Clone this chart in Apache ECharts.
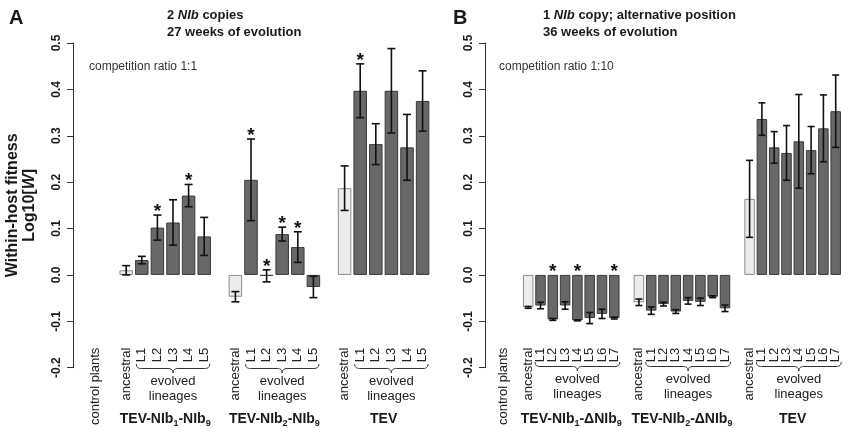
<!DOCTYPE html>
<html lang="en">
<head>
<meta charset="UTF-8">
<title>Within-host fitness</title>
<style>
  * { margin: 0; padding: 0; }
  html, body { width: 100%; height: 100%; background: #fff; }
  #main { width: 852px; height: 428px; }
</style>
</head>
<body>
<div id="main"></div>
<script src="https://cdn.jsdelivr.net/npm/echarts@6/dist/echarts.min.js"></script>
<script>
// panel A: 2 NIb copies, 27 weeks, competition 1:1
var catA = ['control plants', '',
    'ancestral', 'L1', 'L2', 'L3', 'L4', 'L5', '',
    'ancestral', 'L1', 'L2', 'L3', 'L4', 'L5', '',
    'ancestral', 'L1', 'L2', 'L3', 'L4', 'L5'];
var valA = [null, null,
    0.010, 0.032, 0.102, 0.113, 0.171, 0.083, null,
    -0.047, 0.205, -0.002, 0.088, 0.060, -0.026, null,
    0.187, 0.397, 0.282, 0.397, 0.275, 0.375];
var errA = [null, null,
    0.010, 0.008, 0.027, 0.049, 0.024, 0.041, null,
    0.011, 0.088, 0.013, 0.015, 0.033, 0.023, null,
    0.048, 0.058, 0.044, 0.091, 0.071, 0.065];
var starA = [0, 0,
    0, 0, 1, 0, 1, 0, 0,
    0, 1, 1, 1, 1, 0, 0,
    0, 1, 0, 0, 0, 0];
var groupsA = ['TEV-NIb{s|1}-NIb{s|9}', 'TEV-NIb{s|2}-NIb{s|9}', 'TEV'];

// panel B: 1 NIb copy, 36 weeks, competition 1:10
var catB = ['control plants', '',
    'ancestral', 'L1', 'L2', 'L3', 'L4', 'L5', 'L6', 'L7', '',
    'ancestral', 'L1', 'L2', 'L3', 'L4', 'L5', 'L6', 'L7', '',
    'ancestral', 'L1', 'L2', 'L3', 'L4', 'L5', 'L6', 'L7'];
var valB = [null, null,
    -0.070, -0.066, -0.096, -0.066, -0.098, -0.093, -0.084, -0.093, null,
    -0.059, -0.077, -0.063, -0.079, -0.056, -0.058, -0.047, -0.072, null,
    0.164, 0.336, 0.275, 0.263, 0.288, 0.269, 0.316, 0.353];
var errB = [null, null,
    0.002, 0.007, 0.002, 0.008, 0.001, 0.012, 0.010, 0.002, null,
    0.007, 0.008, 0.004, 0.004, 0.007, 0.008, 0.002, 0.007, null,
    0.083, 0.035, 0.034, 0.059, 0.101, 0.051, 0.072, 0.078];
var starB = [0, 0,
    0, 0, 1, 0, 1, 0, 0, 1, 0,
    0, 0, 0, 0, 0, 0, 0, 0, 0,
    0, 0, 0, 0, 0, 0, 0, 0];
var groupsB = ['TEV-NIb{s|1}-\u0394NIb{s|9}', 'TEV-NIb{s|2}-\u0394NIb{s|9}', 'TEV'];

var yTicks = [-0.2, -0.1, 0.0, 0.1, 0.2, 0.3, 0.4, 0.5];

var FONT = '"Liberation Sans", Arial, Helvetica, sans-serif';
var INK = '#1a1a1a';
var ANC_FILL = '#ececec', ANC_LINE = '#8c8c8c';
var EVO_FILL = '#686868', EVO_LINE = '#3a3a3a';

var chart = echarts.init(document.getElementById('main'));

function splitBars(cats, vals, anc) {
    return vals.map(function (v, i) {
        return (cats[i] === 'ancestral') === anc ? v : null;
    });
}

function errData(vals, errs, stars) {
    var out = [];
    vals.forEach(function (v, i) {
        if (v !== null) out.push([i, v, errs[i], stars[i]]);
    });
    return out;
}

function errorBars(capHalf) {
    return function (params, api) {
        var i = api.value(0), v = api.value(1), e = api.value(2), s = api.value(3);
        var top = api.coord([i, v + e]);
        var bot = api.coord([i, v - e]);
        var x = top[0];
        var line = {stroke: '#111', lineWidth: 1.6};
        var kids = [
            {type: 'line', shape: {x1: x, y1: top[1], x2: x, y2: bot[1]}, style: line},
            {type: 'line', shape: {x1: x - capHalf, y1: top[1], x2: x + capHalf, y2: top[1]}, style: line},
            {type: 'line', shape: {x1: x - capHalf, y1: bot[1], x2: x + capHalf, y2: bot[1]}, style: line}
        ];
        if (s) {
            var sy = api.coord([i, Math.max(v + e, 0)])[1];
            kids.push({type: 'text', x: x, y: sy + 6, style: {
                text: '*', fontSize: 19, fontWeight: 'bold', fontFamily: FONT, fill: '#111',
                align: 'center', verticalAlign: 'bottom'}});
        }
        return {type: 'group', children: kids};
    };
}

function xAxisCfg(grid, cats) {
    return {
        type: 'category', gridIndex: grid, data: cats,
        axisLine: {show: false, onZero: false},
        axisTick: {show: false},
        splitLine: {show: false},
        axisLabel: {interval: 0, rotate: 90, margin: -20, fontSize: 13, fontFamily: FONT, color: '#222'}
    };
}

function yAxisCfg(grid, offset, named) {
    var ax = {
        type: 'value', gridIndex: grid, min: yTicks[0], max: yTicks[yTicks.length - 1], interval: 0.1,
        offset: offset,
        axisLine: {show: true, lineStyle: {color: '#333', width: 1}},
        axisTick: {show: true, length: 6, lineStyle: {color: '#333', width: 1}},
        splitLine: {show: false},
        axisLabel: {rotate: 90, margin: 10, fontSize: 12, fontWeight: 'bold', fontFamily: FONT, color: INK,
            formatter: function (v) { return v.toFixed(1); }}
    };
    if (named) {
        ax.name = 'Within-host fitness\nLog10[{i|W}]';
        ax.nameLocation = 'middle';
        ax.nameRotate = 90;
        ax.nameGap = 35;
        ax.nameTextStyle = {fontSize: 16, fontWeight: 'bold', fontFamily: FONT, color: INK, lineHeight: 17,
            rich: {i: {fontSize: 16, fontWeight: 'bold', fontStyle: 'italic', fontFamily: FONT, color: INK}}};
    }
    return ax;
}

function barSeries(axis, data, fill, stroke, w) {
    return {
        type: 'bar', xAxisIndex: axis, yAxisIndex: axis, data: data, barWidth: w, barGap: '-100%',
        silent: true, itemStyle: {color: fill, borderColor: stroke, borderWidth: 1}
    };
}

function errSeries(axis, data, cap) {
    return {
        type: 'custom', xAxisIndex: axis, yAxisIndex: axis, data: data, z: 5, silent: true,
        encode: {x: 0, y: 1}, renderItem: errorBars(cap)
    };
}

function txt(x, y, text, size, weight, extra) {
    var st = {text: text, fontSize: size, fontWeight: weight, fontFamily: FONT, fill: INK,
        align: 'left', verticalAlign: 'middle'};
    for (var k in extra) st[k] = extra[k];
    return {type: 'text', x: x, y: y, silent: true, style: st};
}

var italic = {i: {fontSize: 13, fontWeight: 'bold', fontStyle: 'italic', fontFamily: FONT, fill: INK}};

var titles = [
    txt(9, 18, 'A', 20, 'bold'),
    txt(167, 15, '2 {i|NIb} copies', 13, 'bold', {rich: italic}),
    txt(167, 32, '27 weeks of evolution', 13, 'bold'),
    txt(89, 67, 'competition ratio 1:1', 12, 'normal', {fill: '#333'}),
    txt(453, 18, 'B', 20, 'bold'),
    txt(543, 15, '1 {i|NIb} copy; alternative position', 13, 'bold', {rich: italic}),
    txt(543, 32, '36 weeks of evolution', 13, 'bold'),
    txt(499, 67, 'competition ratio 1:10', 12, 'normal', {fill: '#333'})
];

var option = {
    animation: false,
    grid: [
        {left: 87.2, top: 43, width: 343.2, height: 329},
        {left: 497.45, top: 43, width: 344.4, height: 329}
    ],
    xAxis: [xAxisCfg(0, catA), xAxisCfg(1, catB)],
    yAxis: [yAxisCfg(0, 14.2, true), yAxisCfg(1, 12.45, false)],
    series: [
        barSeries(0, splitBars(catA, valA, true), ANC_FILL, ANC_LINE, 13.5),
        barSeries(0, splitBars(catA, valA, false), EVO_FILL, EVO_LINE, 13.5),
        errSeries(0, errData(valA, errA, starA), 4),
        barSeries(1, splitBars(catB, valB, true), ANC_FILL, ANC_LINE, 10.5),
        barSeries(1, splitBars(catB, valB, false), EVO_FILL, EVO_LINE, 10.5),
        errSeries(1, errData(valB, errB, starB), 3.5)
    ],
    graphic: titles
};
chart.setOption(option);

// group annotations: brace, "evolved lineages", group name
function groupsOf(cats) {
    var out = [];
    cats.forEach(function (c, i) {
        if (c === 'ancestral') out.push({start: i, end: i});
        else if (c !== '' && c !== 'control plants' && out.length) out[out.length - 1].end = i;
    });
    return out;
}

function quad(pts, p0, c, p1) {
    for (var t = 1; t <= 8; t++) {
        var u = t / 8;
        pts.push([(1 - u) * (1 - u) * p0[0] + 2 * u * (1 - u) * c[0] + u * u * p1[0],
                  (1 - u) * (1 - u) * p0[1] + 2 * u * (1 - u) * c[1] + u * u * p1[1]]);
    }
}

function brace(x1, x2, yT, yM, yB) {
    var xc = (x1 + x2) / 2, r = 5;
    var pts = [[x1, yT]];
    quad(pts, [x1, yT], [x1, yM], [x1 + r, yM]);
    pts.push([xc - r, yM]);
    quad(pts, [xc - r, yM], [xc, yM], [xc, yB]);
    quad(pts, [xc, yB], [xc, yM], [xc + r, yM]);
    pts.push([x2 - r, yM]);
    quad(pts, [x2 - r, yM], [x2, yM], [x2, yT]);
    return {type: 'polyline', silent: true, shape: {points: pts},
        style: {stroke: '#333', lineWidth: 1, fill: null}};
}

var sub = {s: {fontSize: 9, fontWeight: 'bold', fontFamily: FONT, fill: INK, verticalAlign: 'bottom', lineHeight: 9}};

function annotate(axis, cats, names, yTop) {
    var els = [];
    var px = function (i) { return chart.convertToPixel({xAxisIndex: axis}, i); };
    groupsOf(cats).forEach(function (g, k) {
        var l1 = px(g.start + 1), ln = px(g.end);
        var xc = (l1 + ln) / 2;
        els.push(brace(l1 - 5.5, ln + 5.5, yTop, yTop + 4.5, yTop + 9));
        els.push(txt(xc, yTop + 17, 'evolved', 13, 'normal', {align: 'center', fill: '#222'}));
        els.push(txt(xc, yTop + 32, 'lineages', 13, 'normal', {align: 'center', fill: '#222'}));
        els.push(txt((px(g.start) + ln) / 2, 419, names[k], 14, 'bold',
            {align: 'center', lineHeight: 18, rich: sub}));
    });
    return els;
}

chart.setOption({graphic: titles.concat(annotate(0, catA, groupsA, 364), annotate(1, catB, groupsB, 362))});

window.onresize = function () { chart.resize(); };
</script>
</body>
</html>
